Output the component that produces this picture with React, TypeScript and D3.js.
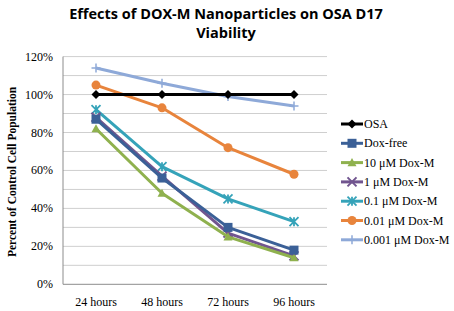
import React from "react";
import * as d3 from "d3";

const categories = ["24 hours", "48 hours", "72 hours", "96 hours"];
const yTicks = [0, 20, 40, 60, 80, 100, 120];
const gridTicks = [10, 20, 30, 40, 50, 60, 70, 80, 90, 100, 110, 120];
const seriesNames = ["OSA", "Dox-free", "10 μM Dox-M", "1 μM Dox-M", "0.1 μM Dox-M", "0.01 μM Dox-M", "0.001 μM Dox-M"];
const osa = [100, 100, 100, 100];
const doxFree = [87, 56, 30, 18];
const dox10 = [82, 48, 25, 14];
const dox1 = [88, 57, 27, 15];
const dox01 = [92, 62, 45, 33];
const dox001 = [105, 93, 72, 58];
const dox0001 = [114, 106, 99, 94];
const colors = ["#000000", "#3B6097", "#8FB14E", "#71558F", "#35A3B9", "#E8843C", "#8EA9D8"];
const markers = ["diamond", "square", "triangle", "x", "star", "circle", "plus"];

const W = 454, H = 311;
const left = 63, right = 327, top = 56.6, bottom = 284.3;

function Marker({ type, x, y, color }: { type: string; x: number; y: number; color: string }) {
  const s = 4.5;
  switch (type) {
    case "diamond":
      return <path d={`M${x},${y - s}L${x + s},${y}L${x},${y + s}L${x - s},${y}Z`} fill={color} />;
    case "square":
      return <rect x={x - s} y={y - s} width={2 * s} height={2 * s} fill={color} />;
    case "triangle":
      return <path d={`M${x},${y - s}L${x + s},${y + s * 0.8}L${x - s},${y + s * 0.8}Z`} fill={color} />;
    case "x":
      return <path d={`M${x - s},${y - s}L${x + s},${y + s}M${x - s},${y + s}L${x + s},${y - s}`} stroke={color} strokeWidth={2} />;
    case "star":
      return <path d={`M${x - s},${y - s}L${x + s},${y + s}M${x - s},${y + s}L${x + s},${y - s}M${x},${y - s}L${x},${y + s}`} stroke={color} strokeWidth={1.8} />;
    case "circle":
      return <circle cx={x} cy={y} r={s} fill={color} />;
    case "plus":
      return <path d={`M${x - s},${y}L${x + s},${y}M${x},${y - s}L${x},${y + s}`} stroke={color} strokeWidth={1.5} />;
  }
  return null;
}

export default function App() {
  const data = [osa, doxFree, dox10, dox1, dox01, dox001, dox0001];
  const x = d3.scaleBand<string>().domain(categories).range([left, right]);
  const y = d3.scaleLinear().domain([0, 120]).range([bottom, top]);
  const line = d3.line<number>().x((_, i) => x(categories[i])! + x.bandwidth() / 2).y((d) => y(d));
  const order = [6, 5, 4, 3, 2, 1, 0];
  return (
    <svg width={W} height={H} style={{ position: "absolute", left: 0, top: 0 }}>
      <rect width={W} height={H} fill="#fff" />
      <text x={226} y={19} textAnchor="middle" fontFamily="Open Sans, Liberation Sans, sans-serif" fontWeight="bold" fontSize={14.5}>
        Effects of DOX-M Nanoparticles on OSA D17
      </text>
      <text x={226} y={38} textAnchor="middle" fontFamily="Open Sans, Liberation Sans, sans-serif" fontWeight="bold" fontSize={14.5}>
        Viability
      </text>
      {gridTicks.map((t) => (
        <line key={t} x1={left} x2={right} y1={y(t)} y2={y(t)} stroke="#CFCFCF" strokeWidth={1} />
      ))}
      {yTicks.map((t) => (
        <text key={t} x={53} y={y(t) + 4} textAnchor="end" fontFamily="Liberation Serif, serif" fontSize={12}>
          {t}%
        </text>
      ))}
      <line x1={left} x2={left} y1={top} y2={bottom} stroke="#8C8C8C" />
      <line x1={left} x2={right} y1={bottom} y2={bottom} stroke="#8C8C8C" />
      {categories.map((c) => (
        <text key={c} x={x(c)! + x.bandwidth() / 2} y={306} textAnchor="middle" fontFamily="Liberation Serif, serif" fontSize={12}>
          {c}
        </text>
      ))}
      <text transform={`translate(16,172) rotate(-90)`} textAnchor="middle" fontFamily="Liberation Serif, serif" fontWeight="bold" fontSize={11.5}>
        Percent of Control Cell Population
      </text>
      {order.map((si) => (
        <g key={si}>
          <path d={line(data[si])!} fill="none" stroke={colors[si]} strokeWidth={3} strokeLinejoin="round" />
          {data[si].map((v, i) => (
            <Marker key={i} type={markers[si]} x={x(categories[i])! + x.bandwidth() / 2} y={y(v)} color={colors[si]} />
          ))}
        </g>
      ))}
      {seriesNames.map((n, i) => {
        const ly = 124 + i * 19.3;
        return (
          <g key={n}>
            <line x1={341} x2={363} y1={ly} y2={ly} stroke={colors[i]} strokeWidth={3} />
            <Marker type={markers[i]} x={352} y={ly} color={colors[i]} />
            <text x={364} y={ly + 4} fontFamily="Liberation Serif, serif" fontSize={12}>
              {n}
            </text>
          </g>
        );
      })}
    </svg>
  );
}
